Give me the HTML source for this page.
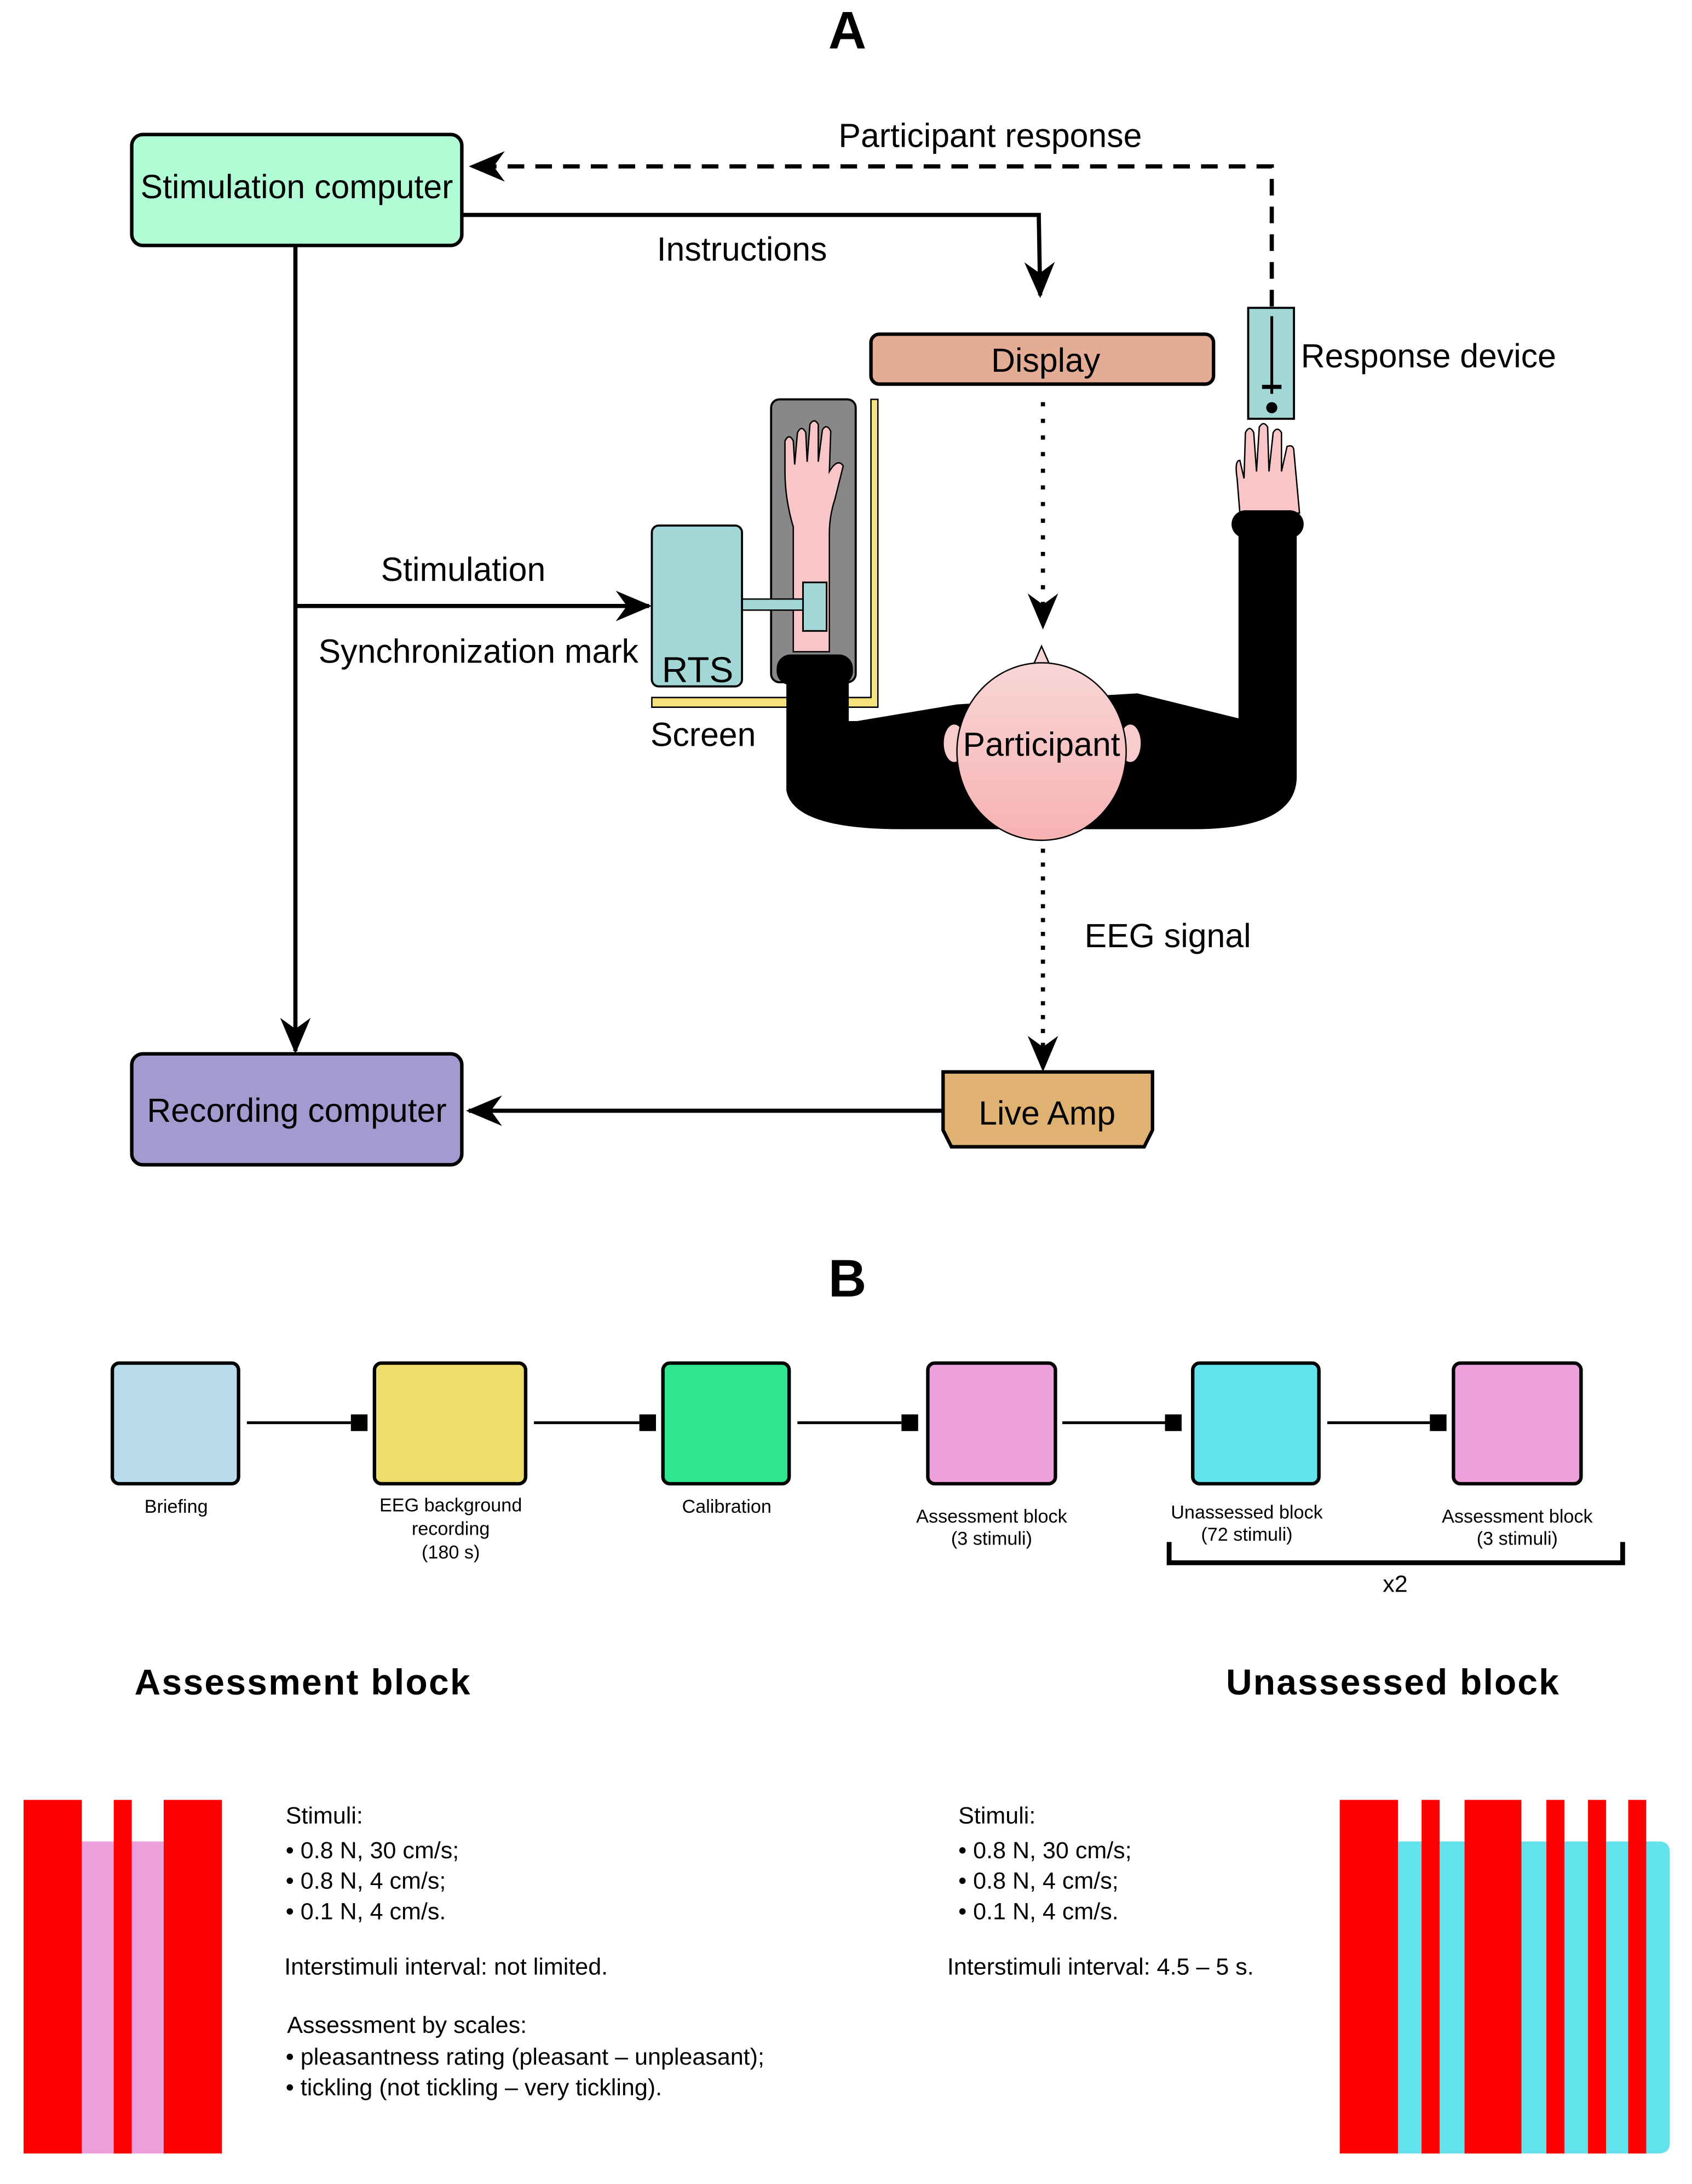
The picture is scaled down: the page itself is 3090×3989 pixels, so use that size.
<!DOCTYPE html>
<html><head><meta charset="utf-8"><style>html,body{margin:0;padding:0;background:#fff}svg{display:block}</style></head><body>
<svg width="3090" height="3989" viewBox="0 0 1220 1575" preserveAspectRatio="none" xmlns="http://www.w3.org/2000/svg" font-family="Liberation Sans, sans-serif">
<defs>
<marker id="ar" viewBox="0 0 26 22" refX="24" refY="11" markerWidth="26" markerHeight="22" markerUnits="userSpaceOnUse" orient="auto"><path d="M0,0 L26,11 L0,22 L8,11 Z" fill="#000"/></marker>
<linearGradient id="hd" x1="0" y1="0" x2="0" y2="1"><stop offset="0" stop-color="#f8d6d6"/><stop offset="1" stop-color="#f7b2b2"/></linearGradient>
</defs>
<text x="611" y="35" font-size="38" font-weight="bold" text-anchor="middle">A</text>
<path d="M917,221 L917,120 L340,120" fill="none" stroke="#000" stroke-width="3" stroke-dasharray="12,8" marker-end="url(#ar)"/>
<path d="M333,155 L749,155 L750,213" fill="none" stroke="#000" stroke-width="3" marker-end="url(#ar)"/>
<path d="M213,177 L213,758" fill="none" stroke="#000" stroke-width="3" marker-end="url(#ar)"/>
<path d="M213,437 L468,437" fill="none" stroke="#000" stroke-width="3" marker-end="url(#ar)"/>
<path d="M752,290 L752,452" fill="none" stroke="#000" stroke-width="3" stroke-dasharray="3,9" marker-end="url(#ar)"/>
<path d="M752,612 L752,771" fill="none" stroke="#000" stroke-width="3" stroke-dasharray="3,7" marker-end="url(#ar)"/>
<path d="M680,801 L338,801" fill="none" stroke="#000" stroke-width="3" marker-end="url(#ar)"/>
<text x="714" y="106" font-size="24" text-anchor="middle">Participant response</text>
<text x="535" y="188" font-size="24" text-anchor="middle">Instructions</text>
<text x="334" y="419" font-size="24" text-anchor="middle">Stimulation</text>
<text x="345" y="478" font-size="24" text-anchor="middle">Synchronization mark</text>
<text x="507" y="538" font-size="24" text-anchor="middle">Screen</text>
<text x="842" y="683" font-size="24" text-anchor="middle">EEG signal</text>
<rect x="95" y="97" width="238" height="80" rx="8" fill="#b0fcd4" stroke="#000" stroke-width="2.5"/>
<text x="214" y="143" font-size="24" text-anchor="middle">Stimulation computer</text>
<rect x="95" y="760" width="238" height="80" rx="8" fill="#a39acf" stroke="#000" stroke-width="2.5"/>
<text x="214" y="809" font-size="24" text-anchor="middle">Recording computer</text>
<rect x="628" y="241" width="247" height="36" rx="6" fill="#e4ac94" stroke="#000" stroke-width="2.5"/>
<text x="754" y="268" font-size="24" text-anchor="middle">Display</text>
<rect x="900" y="222" width="33" height="80" fill="#a3d6d6" stroke="#000" stroke-width="1.5"/>
<line x1="917" y1="228" x2="917" y2="284" stroke="#000" stroke-width="2"/>
<line x1="910" y1="279" x2="924" y2="279" stroke="#000" stroke-width="3"/>
<circle cx="917" cy="294" r="4" fill="#000"/>
<text x="938" y="265" font-size="24">Response device</text>
<path d="M680,773 L831,773 L831,815 L825,827 L686,827 L680,815 Z" fill="#e0b272" stroke="#000" stroke-width="2.5"/>
<text x="755" y="811" font-size="24" text-anchor="middle">Live Amp</text>
<rect x="556" y="288" width="61" height="204" rx="6" fill="#888" stroke="#000" stroke-width="1.5"/>
<path d="M572,470 L572,380 Q566,360 566,340 L566,318 Q569,312 572,318 L573,335 L575,312 Q578,306 581,312 L582,333 L584,306 Q587,301 590,306 L590,333 L593,310 Q596,305 599,311 L598,340 Q604,330 608,336 L602,360 Q598,372 598,385 L598,470 Z" fill="#f8c6c6" stroke="#000" stroke-width="1"/>
<path d="M894,370 L892,345 Q890,332 894,332 L897,345 L898,312 Q901,306 904,312 L906,340 L908,308 Q911,303 914,308 L915,340 L918,312 Q921,307 924,312 L924,340 L928,322 Q933,320 933,326 L937,370 Z" fill="#f8c6c6" stroke="#000" stroke-width="1"/>
<rect x="535" y="432" width="45" height="8" fill="#a3d6d6" stroke="#000" stroke-width="1"/>
<rect x="579" y="420" width="17" height="35" fill="#a3d6d6" stroke="#000" stroke-width="1.2"/>
<path d="M628,288 L633,288 L633,510 L470,510 L470,503 L628,503 Z" fill="#f5e27a" stroke="#000" stroke-width="1"/>
<path d="M567,490 L567,570 Q572,598 650,598 L860,598 Q935,598 935,560 L935,380 L893,380 L893,518 L820,500 L690,508 L618,520 L612,520 L612,490 Z" fill="#000"/>
<rect x="560" y="472" width="55" height="22" rx="10" fill="#000"/>
<rect x="888" y="368" width="52" height="20" rx="10" fill="#000"/>
<rect x="470" y="379" width="65" height="116" rx="5" fill="#a3d6d6" stroke="#000" stroke-width="1.5"/>
<text x="503" y="492" font-size="26" text-anchor="middle">RTS</text>
<ellipse cx="688" cy="536" rx="8" ry="14" fill="#f8cccc" stroke="#000" stroke-width="1"/>
<ellipse cx="815" cy="536" rx="8" ry="14" fill="#f8cccc" stroke="#000" stroke-width="1"/>
<path d="M744,482 L751,466 L758,482 Z" fill="#f8d6d6" stroke="#000" stroke-width="1"/>
<ellipse cx="751" cy="542" rx="61" ry="64" fill="url(#hd)" stroke="#000" stroke-width="1"/>
<text x="751" y="545" font-size="24" text-anchor="middle">Participant</text>
<text x="611" y="935" font-size="38" font-weight="bold" text-anchor="middle">B</text>
<g stroke="#000" stroke-width="2.5">
<rect x="81" y="983" width="91" height="87" rx="5" fill="#b8dcec"/>
<rect x="270" y="983" width="109" height="87" rx="5" fill="#eedd6a"/>
<rect x="478" y="983" width="91" height="87" rx="5" fill="#2ee68e"/>
<rect x="669" y="983" width="92" height="87" rx="5" fill="#eea0dc"/>
<rect x="860" y="983" width="91" height="87" rx="5" fill="#62e2ec"/>
<rect x="1048" y="983" width="92" height="87" rx="5" fill="#eea0dc"/>
</g>
<g stroke="#000" stroke-width="2">
<line x1="178" y1="1026" x2="253" y2="1026"/><line x1="385" y1="1026" x2="461" y2="1026"/><line x1="575" y1="1026" x2="650" y2="1026"/><line x1="766" y1="1026" x2="840" y2="1026"/><line x1="957" y1="1026" x2="1031" y2="1026"/>
</g>
<g fill="#000">
<rect x="253" y="1020" width="12" height="12"/><rect x="461" y="1020" width="12" height="12"/><rect x="650" y="1020" width="12" height="12"/><rect x="840" y="1020" width="12" height="12"/><rect x="1031" y="1020" width="12" height="12"/>
</g>
<g font-size="13.5" text-anchor="middle">
<text x="127" y="1091">Briefing</text>
<text x="325" y="1090">EEG background</text><text x="325" y="1107">recording</text><text x="325" y="1124">(180 s)</text>
<text x="524" y="1091">Calibration</text>
<text x="715" y="1098">Assessment block</text><text x="715" y="1114">(3 stimuli)</text>
<text x="899" y="1095">Unassessed block</text><text x="899" y="1111">(72 stimuli)</text>
<text x="1094" y="1098">Assessment block</text><text x="1094" y="1114">(3 stimuli)</text>
</g>
<path d="M843,1112 L843,1127 L1170,1127 L1170,1112" fill="none" stroke="#000" stroke-width="3.5"/>
<text x="1006" y="1148" font-size="17" text-anchor="middle">x2</text>
<text x="218" y="1222" font-size="26" font-weight="bold" text-anchor="middle" textLength="242">Assessment block</text>
<text x="1004" y="1222" font-size="26" font-weight="bold" text-anchor="middle" textLength="240">Unassessed block</text>
<rect x="59" y="1328" width="59" height="225" fill="#eea0dc"/>
<rect x="17" y="1298" width="42" height="255" fill="#ff0000"/>
<rect x="82" y="1298" width="13" height="255" fill="#ff0000"/>
<rect x="118" y="1298" width="42" height="255" fill="#ff0000"/>
<path d="M1008,1328 L1196,1328 Q1204,1328 1204,1336 L1204,1545 Q1204,1553 1196,1553 L1008,1553 Z" fill="#62e2ec"/>
<g fill="#ff0000">
<rect x="966" y="1298" width="42" height="255"/><rect x="1025" y="1298" width="13" height="255"/><rect x="1056" y="1298" width="41" height="255"/><rect x="1115" y="1298" width="13" height="255"/><rect x="1145" y="1298" width="13" height="255"/><rect x="1174" y="1298" width="13" height="255"/>
</g>
<g font-size="17">
<text x="206" y="1315">Stimuli:</text>
<text x="206" y="1340">• 0.8 N, 30 cm/s;</text>
<text x="206" y="1362">• 0.8 N, 4 cm/s;</text>
<text x="206" y="1384">• 0.1 N, 4 cm/s.</text>
<text x="205" y="1424">Interstimuli interval: not limited.</text>
<text x="207" y="1466">Assessment by scales:</text>
<text x="206" y="1489">• pleasantness rating (pleasant – unpleasant);</text>
<text x="206" y="1511">• tickling (not tickling – very tickling).</text>
<text x="691" y="1315">Stimuli:</text>
<text x="691" y="1340">• 0.8 N, 30 cm/s;</text>
<text x="691" y="1362">• 0.8 N, 4 cm/s;</text>
<text x="691" y="1384">• 0.1 N, 4 cm/s.</text>
<text x="683" y="1424">Interstimuli interval: 4.5 – 5 s.</text>
</g>
</svg>
</body></html>
